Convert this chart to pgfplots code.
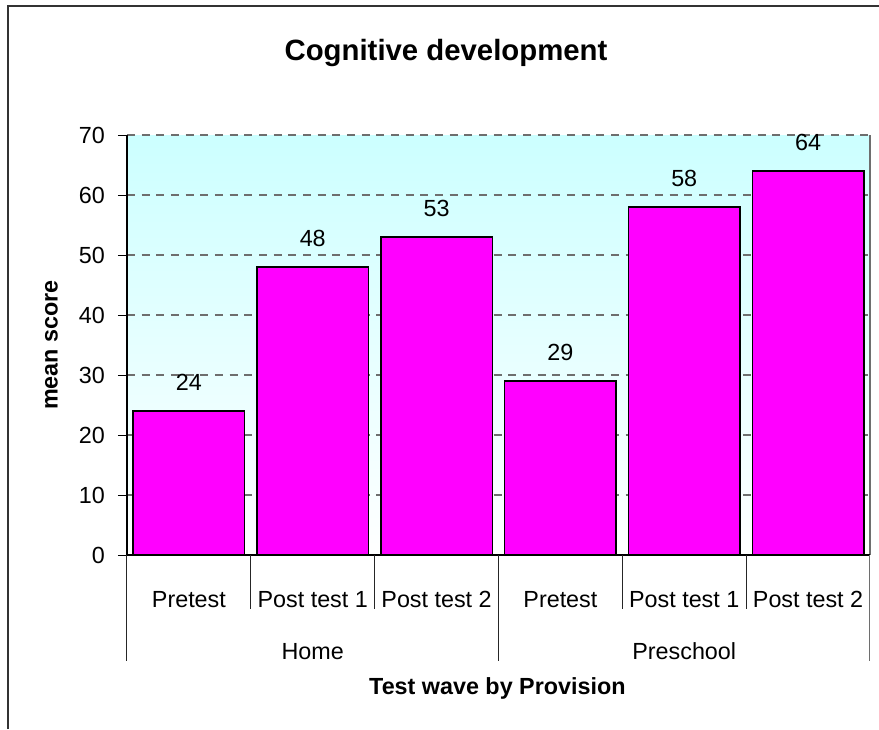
\documentclass[border=0pt]{standalone}
\usepackage{pgfplots}
\pgfplotsset{compat=1.18}
\usepackage{fontspec}
\setmainfont{Liberation Sans}
\definecolor{barmag}{RGB}{255,0,255}
\definecolor{bgcyan}{RGB}{204,255,255}
\definecolor{gridgray}{RGB}{110,110,110}
\newcommand{\lblfont}{\fontsize{17.5}{20}\selectfont}
\begin{document}
\begin{tikzpicture}[x=0.75pt,y=0.75pt]
\useasboundingbox (-127,-174) rectangle (752,555);
\draw[line width=0.9pt, black!80] (-119,-174) -- (-119,549) -- (752,549);
\node[font=\fontsize{22}{26}\selectfont\bfseries, anchor=base] at (319,494) {Cognitive development};
\begin{axis}[
  at={(0,0)}, anchor=south west,
  scale only axis, width=557.25pt, height=315pt,
  xmin=-0.5, xmax=5.5, ymin=0, ymax=70,
  axis background/.style={top color=bgcyan, bottom color=white},
  axis line style={draw=none},
  clip=false,
  ytick={0,10,...,70},
  ymajorgrids, grid style={gridgray, line width=0.9pt, dash pattern=on 6pt off 5pt},
  ytick pos=left, tick align=outside, major tick length=6.75pt,
  ytick style={black, line width=0.75pt},
  yticklabel style={font=\lblfont, anchor=east, inner sep=0pt, xshift=-9.75pt},
  /pgf/number format/assume math mode=true,
  xtick={0,...,5},
  xticklabels={Pretest, Post test 1, Post test 2, Pretest, Post test 1, Post test 2},
  xtick style={draw=none},
  xticklabel style={font=\lblfont, anchor=base, inner sep=0pt, yshift=-32.25pt},
  extra x ticks={1,4},
  extra x tick labels={Home, Preschool},
  extra x tick style={grid=none, xtick style={draw=none}, xticklabel style={yshift=-39pt}},
  xlabel={Test wave by Provision},
  xlabel style={font=\lblfont\bfseries, at={(axis description cs:0.4985,-0.3333)}, anchor=base, inner sep=0pt},
  ylabel={mean score},
  ylabel style={font=\lblfont\bfseries, at={(axis description cs:-0.0933,0.5)}, anchor=base, inner sep=0pt},
  ybar, bar width=0.9,
  nodes near coords,
  every node near coord/.append style={font=\lblfont, anchor=south, inner sep=0pt, yshift=15pt},
]
\addplot[fill=barmag, draw=black, line width=1.1pt] coordinates {(0,24) (1,48) (2,53) (3,29) (4,58) (5,64)};
\draw[gridgray, line width=0.9pt] (rel axis cs:1,0) -- (rel axis cs:1,1);
\draw[black, line width=0.9pt] (rel axis cs:0,0) -- (rel axis cs:0,1);
\draw[black, line width=0.9pt] (rel axis cs:0,0) -- (rel axis cs:1,0);
\draw[black!85, line width=0.75pt] (axis cs:0.5,0) -- ([yshift=-40.5pt]axis cs:0.5,0);
\draw[black!85, line width=0.75pt] (axis cs:1.5,0) -- ([yshift=-40.5pt]axis cs:1.5,0);
\draw[black!85, line width=0.75pt] (axis cs:3.5,0) -- ([yshift=-40.5pt]axis cs:3.5,0);
\draw[black!85, line width=0.75pt] (axis cs:4.5,0) -- ([yshift=-40.5pt]axis cs:4.5,0);
\draw[black!85, line width=0.75pt] (axis cs:-0.5,0) -- ([yshift=-79.5pt]axis cs:-0.5,0);
\draw[black!85, line width=0.75pt] (axis cs:2.5,0) -- ([yshift=-79.5pt]axis cs:2.5,0);
\draw[gridgray, line width=0.75pt] (axis cs:5.5,0) -- ([yshift=-79.5pt]axis cs:5.5,0);
\end{axis}
\end{tikzpicture}
\end{document}
